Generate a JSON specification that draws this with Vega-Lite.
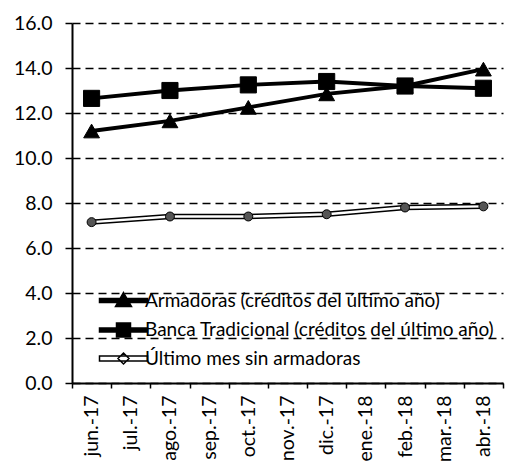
{
  "$schema": "https://vega.github.io/schema/vega-lite/v6.json",
  "width": 431,
  "height": 360,
  "autosize": {"type": "none"},
  "padding": {"left": 72, "top": 23, "right": 5, "bottom": 80},
  "background": "white",
  "config": {
    "font": "Lato",
    "view": {"stroke": null},
    "legend": {
      "title": null,
      "orient": "none",
      "legendX": 42,
      "legendY": 268,
      "padding": 0,
      "symbolSize": 100,
      "labelFontSize": 19,
      "labelColor": "black",
      "labelOffset": 12,
      "rowPadding": 8.5,
      "labelLimit": 450
    }
  },
  "data": {
    "values": [
      {"month": "jun.-17", "series": "Armadoras (créditos del último año)", "value": 11.2},
      {"month": "ago.-17", "series": "Armadoras (créditos del último año)", "value": 11.65},
      {"month": "oct.-17", "series": "Armadoras (créditos del último año)", "value": 12.25},
      {"month": "dic.-17", "series": "Armadoras (créditos del último año)", "value": 12.85},
      {"month": "feb.-18", "series": "Armadoras (créditos del último año)", "value": 13.2},
      {"month": "abr.-18", "series": "Armadoras (créditos del último año)", "value": 13.95},
      {"month": "jun.-17", "series": "Banca Tradicional (créditos del último año)", "value": 12.65},
      {"month": "ago.-17", "series": "Banca Tradicional (créditos del último año)", "value": 13.0},
      {"month": "oct.-17", "series": "Banca Tradicional (créditos del último año)", "value": 13.25},
      {"month": "dic.-17", "series": "Banca Tradicional (créditos del último año)", "value": 13.4},
      {"month": "feb.-18", "series": "Banca Tradicional (créditos del último año)", "value": 13.2},
      {"month": "abr.-18", "series": "Banca Tradicional (créditos del último año)", "value": 13.1},
      {"month": "jun.-17", "series": "Último mes sin armadoras", "value": 7.15},
      {"month": "ago.-17", "series": "Último mes sin armadoras", "value": 7.4},
      {"month": "oct.-17", "series": "Último mes sin armadoras", "value": 7.4},
      {"month": "dic.-17", "series": "Último mes sin armadoras", "value": 7.5},
      {"month": "feb.-18", "series": "Último mes sin armadoras", "value": 7.8},
      {"month": "abr.-18", "series": "Último mes sin armadoras", "value": 7.85}
    ]
  },
  "encoding": {
    "x": {
      "field": "month",
      "type": "ordinal",
      "scale": {
        "type": "band",
        "domain": ["jun.-17", "jul.-17", "ago.-17", "sep.-17", "oct.-17", "nov.-17", "dic.-17", "ene.-18", "feb.-18", "mar.-18", "abr.-18"],
        "paddingInner": 0,
        "paddingOuter": 0
      },
      "axis": {
        "title": null,
        "labelAngle": -90,
        "labelFontSize": 19.5,
        "labelColor": "black",
        "domainColor": "black",
        "domainWidth": 2,
        "tickColor": "black",
        "tickSize": 5,
        "tickWidth": 1.5,
        "tickBand": "extent",
        "labelPadding": 7,
        "grid": false
      }
    },
    "y": {
      "field": "value",
      "type": "quantitative",
      "scale": {"domain": [0, 16], "nice": false},
      "axis": {
        "title": null,
        "values": [0, 2, 4, 6, 8, 10, 12, 14, 16],
        "format": ".1f",
        "labelFontSize": 19.5,
        "labelColor": "black",
        "domainColor": "black",
        "domainWidth": 2,
        "tickColor": "black",
        "tickSize": 7,
        "tickWidth": 1.5,
        "labelPadding": 13,
        "gridColor": "black",
        "gridDash": [8, 5],
        "gridWidth": 1.5,
        "gridOpacity": 1
      }
    }
  },
  "layer": [
    {
      "transform": [{"filter": "datum.series !== 'Último mes sin armadoras'"}],
      "mark": {"type": "line", "color": "black", "strokeWidth": 4},
      "encoding": {"detail": {"field": "series", "type": "nominal"}}
    },
    {
      "transform": [{"filter": "datum.series === 'Último mes sin armadoras'"}],
      "mark": {"type": "line", "color": "black", "strokeWidth": 5.5},
      "encoding": {}
    },
    {
      "transform": [{"filter": "datum.series === 'Último mes sin armadoras'"}],
      "mark": {"type": "line", "color": "white", "strokeWidth": 2.5},
      "encoding": {}
    },
    {
      "transform": [{"filter": "datum.series === 'Último mes sin armadoras'"}],
      "mark": {"type": "point", "shape": "circle", "filled": true, "fill": "#555", "stroke": "black", "strokeWidth": 1, "size": 80, "opacity": 1},
      "encoding": {}
    },
    {
      "transform": [{"filter": "datum.series === 'Armadoras (créditos del último año)'"}],
      "mark": {"type": "point", "shape": "triangle-up", "filled": true, "fill": "black", "stroke": "black", "strokeWidth": 1, "size": 250, "opacity": 1},
      "encoding": {}
    },
    {
      "transform": [{"filter": "datum.series === 'Banca Tradicional (créditos del último año)'"}],
      "mark": {"type": "point", "shape": "square", "filled": true, "fill": "black", "stroke": "black", "strokeWidth": 1, "size": 260, "opacity": 1},
      "encoding": {}
    },
    {
      "transform": [{"filter": "false"}],
      "mark": {"type": "point", "filled": true, "strokeWidth": 1, "opacity": 1},
      "encoding": {
        "shape": {
          "field": "series",
          "type": "nominal",
          "scale": {
            "domain": ["Armadoras (créditos del último año)", "Banca Tradicional (créditos del último año)", "Último mes sin armadoras"],
            "range": [
              "M-4.8,-0.4H4.8V0.4H-4.8Z M0,-1.6L1.6,1.2H-1.6Z",
              "M-4.8,-0.4H4.8V0.4H-4.8Z M-1.4,-1.4H1.4V1.4H-1.4Z",
              "M-4.8,-0.5H4.8V0.5H-4.8Z M0,-1.1L1.1,0L0,1.1L-1.1,0Z"
            ]
          }
        },
        "fill": {
          "field": "series",
          "type": "nominal",
          "scale": {
            "domain": ["Armadoras (créditos del último año)", "Banca Tradicional (créditos del último año)", "Último mes sin armadoras"],
            "range": ["black", "black", "white"]
          }
        },
        "stroke": {
          "field": "series",
          "type": "nominal",
          "scale": {
            "domain": ["Armadoras (créditos del último año)", "Banca Tradicional (créditos del último año)", "Último mes sin armadoras"],
            "range": ["black", "black", "black"]
          }
        }
      }
    }
  ]
}
